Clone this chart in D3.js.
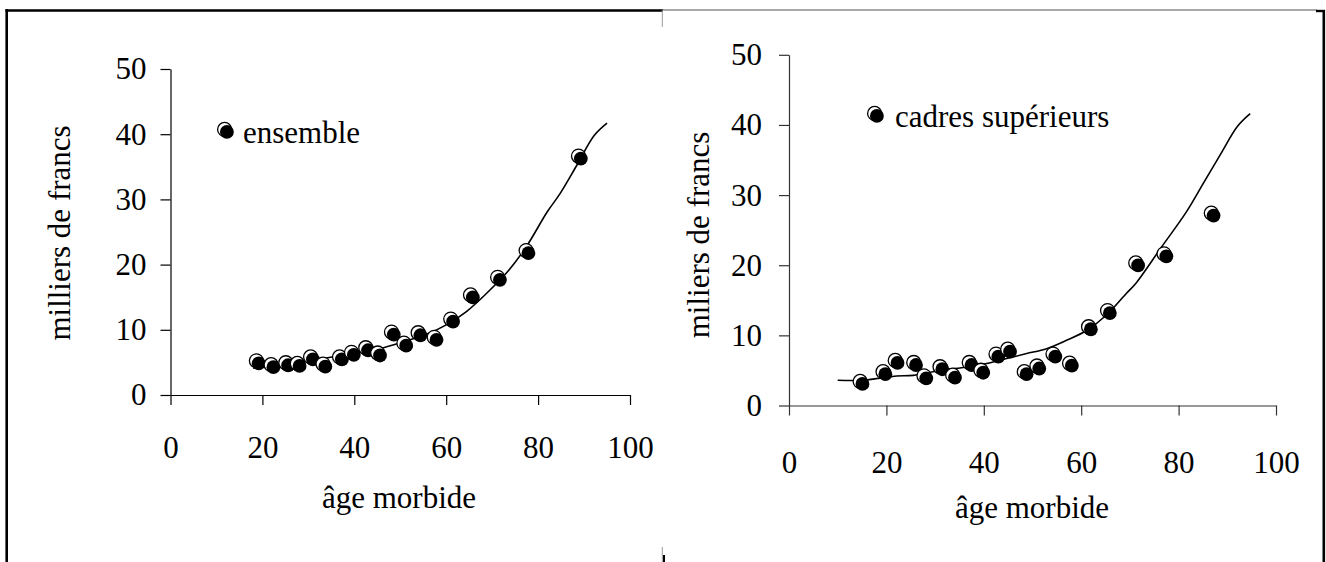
<!DOCTYPE html>
<html>
<head>
<meta charset="utf-8">
<script src="https://cdn.jsdelivr.net/npm/d3@7"></script>
<style>
  html, body { margin: 0; padding: 0; background: #fff; }
  svg { display: block; }
  text { font-family: "Liberation Serif", "Times New Roman", serif; fill: #000; }
</style>
</head>
<body>
<svg id="chart" width="1326" height="562"></svg>
<script>
// Observed points: age at illness (x) and cost in thousands of francs (y)
const ensembleAge  = [19.0, 22.2, 25.4, 27.9, 30.8, 33.5, 37.1, 39.7, 42.8, 45.4, 48.4, 51.1, 54.2, 57.7, 61.3, 65.6, 71.5, 77.7, 89.1];
const ensembleCost = [5.0, 4.4, 4.7, 4.6, 5.6, 4.5, 5.6, 6.3, 7.0, 6.2, 9.4, 7.7, 9.3, 8.6, 11.4, 15.1, 17.8, 21.9, 36.4];

const cadresAge  = [14.9, 19.6, 22.1, 25.9, 28.0, 31.3, 33.9, 37.3, 39.7, 42.8, 45.2, 48.6, 51.2, 54.5, 57.9, 61.8, 65.7, 71.5, 77.3, 87.0];
const cadresCost = [3.2, 4.6, 6.2, 5.9, 4.0, 5.3, 4.1, 5.9, 4.8, 7.1, 7.8, 4.6, 5.4, 7.1, 5.8, 11.0, 13.3, 20.1, 21.4, 27.2];

// Fitted curves
const fitAgeA  = [18, 22, 28, 32.5, 38, 45.5, 51.3, 55.7, 60.1, 64.4, 68.8, 73.1, 77.3, 82, 84.7, 88.4, 92.2, 95];
const fitCostA = [4.1, 4.4, 5.0, 5.5, 6.2, 7.1, 8.3, 9.3, 10.8, 12.8, 15.6, 18.7, 22.6, 28.1, 30.8, 35.2, 39.8, 41.7];

const fitAgeB  = [10, 15, 18.7, 22.1, 25.5, 31, 36.5, 40.6, 44.7, 48.8, 52.9, 57, 61.1, 65.2, 69.3, 71.2, 76.4, 81.6, 85.1, 88.6, 92.1, 94.7];
const fitCostB = [3.6, 3.6, 3.9, 4.2, 4.3, 5.0, 5.5, 6.0, 6.7, 7.4, 8.1, 9.3, 10.7, 12.9, 16.0, 17.4, 22.5, 27.6, 31.7, 35.8, 39.8, 41.6];

const xTicks = [0, 20, 40, 60, 80, 100];
const yTicks = [0, 10, 20, 30, 40, 50];
const xTitle = "âge morbide";
const yTitleA = "milliers de francs";
const yTitleB = "miliers de francs";
const legendA = "ensemble";
const legendB = "cadres supérieurs";

const svg = d3.select("#chart");
svg.append("rect").attr("width", 1326).attr("height", 562).attr("fill", "#fff");

// Outer frames
const frame = svg.append("g").attr("fill", "none");
frame.append("line").attr("x1", 6.7).attr("x2", 6.7).attr("y1", 9).attr("y2", 562).attr("stroke", "#000").attr("stroke-width", 2.6);
frame.append("line").attr("x1", 5.5).attr("x2", 663).attr("y1", 10.5).attr("y2", 10.5).attr("stroke", "#000").attr("stroke-width", 2.6);
frame.append("line").attr("x1", 663).attr("x2", 1317).attr("y1", 10).attr("y2", 10).attr("stroke", "#555").attr("stroke-width", 1.2);
frame.append("line").attr("x1", 1316).attr("x2", 1325).attr("y1", 11).attr("y2", 11).attr("stroke", "#000").attr("stroke-width", 2.4);
frame.append("line").attr("x1", 1323.8).attr("x2", 1323.8).attr("y1", 10).attr("y2", 562).attr("stroke", "#000").attr("stroke-width", 2.6);
frame.append("line").attr("x1", 662.3).attr("x2", 662.3).attr("y1", 10).attr("y2", 27).attr("stroke", "#999").attr("stroke-width", 1);
frame.append("line").attr("x1", 662.3).attr("x2", 662.3).attr("y1", 547).attr("y2", 562).attr("stroke", "#999").attr("stroke-width", 1);
frame.append("line").attr("x1", 664).attr("x2", 664).attr("y1", 555).attr("y2", 562).attr("stroke", "#000").attr("stroke-width", 2);

function marker(g, x, y) {
  const m = g.append("g").attr("transform", `translate(${x},${y})`);
  m.append("circle").attr("cx", -1.4).attr("cy", -1.6).attr("r", 7)
    .attr("fill", "#fff").attr("stroke", "#000").attr("stroke-width", 1.3);
  m.append("circle").attr("cx", 0.9).attr("cy", 0.9).attr("r", 6.9).attr("fill", "#000");
}

function panel(cfg) {
  const x = d3.scaleLinear().domain([0, 100]).range(cfg.xRange);
  const y = d3.scaleLinear().domain([0, 50]).range(cfg.yRange);
  const g = svg.append("g");

  const fs = cfg.fontSize;
  const yAxis = d3.axisLeft(y).tickValues(yTicks).tickSize(10).tickSizeOuter(0).tickPadding(cfg.yPad);
  const xAxis = d3.axisBottom(x).tickValues(xTicks).tickSize(10).tickSizeOuter(0).tickPadding(cfg.xPad);

  const ga = g.append("g").attr("transform", `translate(${cfg.xRange[0]},0)`).call(yAxis);
  const gb = g.append("g").attr("transform", `translate(0,${cfg.yRange[0]})`).call(xAxis);
  [ga, gb].forEach(a => {
    a.selectAll("path.domain").attr("stroke", cfg.axisColor).attr("stroke-width", 1.2);
    a.selectAll(".tick line").attr("stroke", cfg.axisColor).attr("stroke-width", 1.2);
    a.selectAll("text").attr("font-family", "Liberation Serif").attr("font-size", fs).attr("fill", "#000");
  });

  // Fitted curve
  const pts = cfg.fitAge.map((a, i) => [a, cfg.fitCost[i]]);
  g.append("path").datum(pts)
    .attr("fill", "none").attr("stroke", "#000").attr("stroke-width", 1.6)
    .attr("d", d3.line().x(d => x(d[0])).y(d => y(d[1])).curve(d3.curveCatmullRom));

  // Observations
  cfg.age.forEach((a, i) => marker(g, x(a), y(cfg.cost[i])));

  // Legend
  marker(g, cfg.legendMarker[0], cfg.legendMarker[1]);
  g.append("text").attr("x", cfg.legendText[0]).attr("y", cfg.legendText[1])
    .attr("font-size", fs).text(cfg.legend);

  // Titles
  g.append("text").attr("x", cfg.xTitlePos[0]).attr("y", cfg.xTitlePos[1])
    .attr("text-anchor", "middle").attr("font-size", fs).text(xTitle);
  g.append("text")
    .attr("transform", `translate(${cfg.yTitlePos[0]},${cfg.yTitlePos[1]}) rotate(-90)`)
    .attr("text-anchor", "middle").attr("font-size", fs).text(cfg.yTitle);
}

panel({
  xRange: [170.5, 630], yRange: [395, 69],
  xPad: 31, yPad: 14, fontSize: 31, axisColor: "#000",
  age: ensembleAge, cost: ensembleCost,
  fitAge: fitAgeA, fitCost: fitCostA,
  legend: legendA, legendMarker: [226, 131], legendText: [243, 143],
  xTitlePos: [399, 508], yTitlePos: [70, 233], yTitle: yTitleA
});

panel({
  xRange: [789, 1276], yRange: [405.5, 54.8],
  xPad: 35, yPad: 17, fontSize: 31, axisColor: "#333",
  age: cadresAge, cost: cadresCost,
  fitAge: fitAgeB, fitCost: fitCostB,
  legend: legendB, legendMarker: [876, 115], legendText: [895, 127],
  xTitlePos: [1032, 518], yTitlePos: [709, 235], yTitle: yTitleB
});
</script>
</body>
</html>
